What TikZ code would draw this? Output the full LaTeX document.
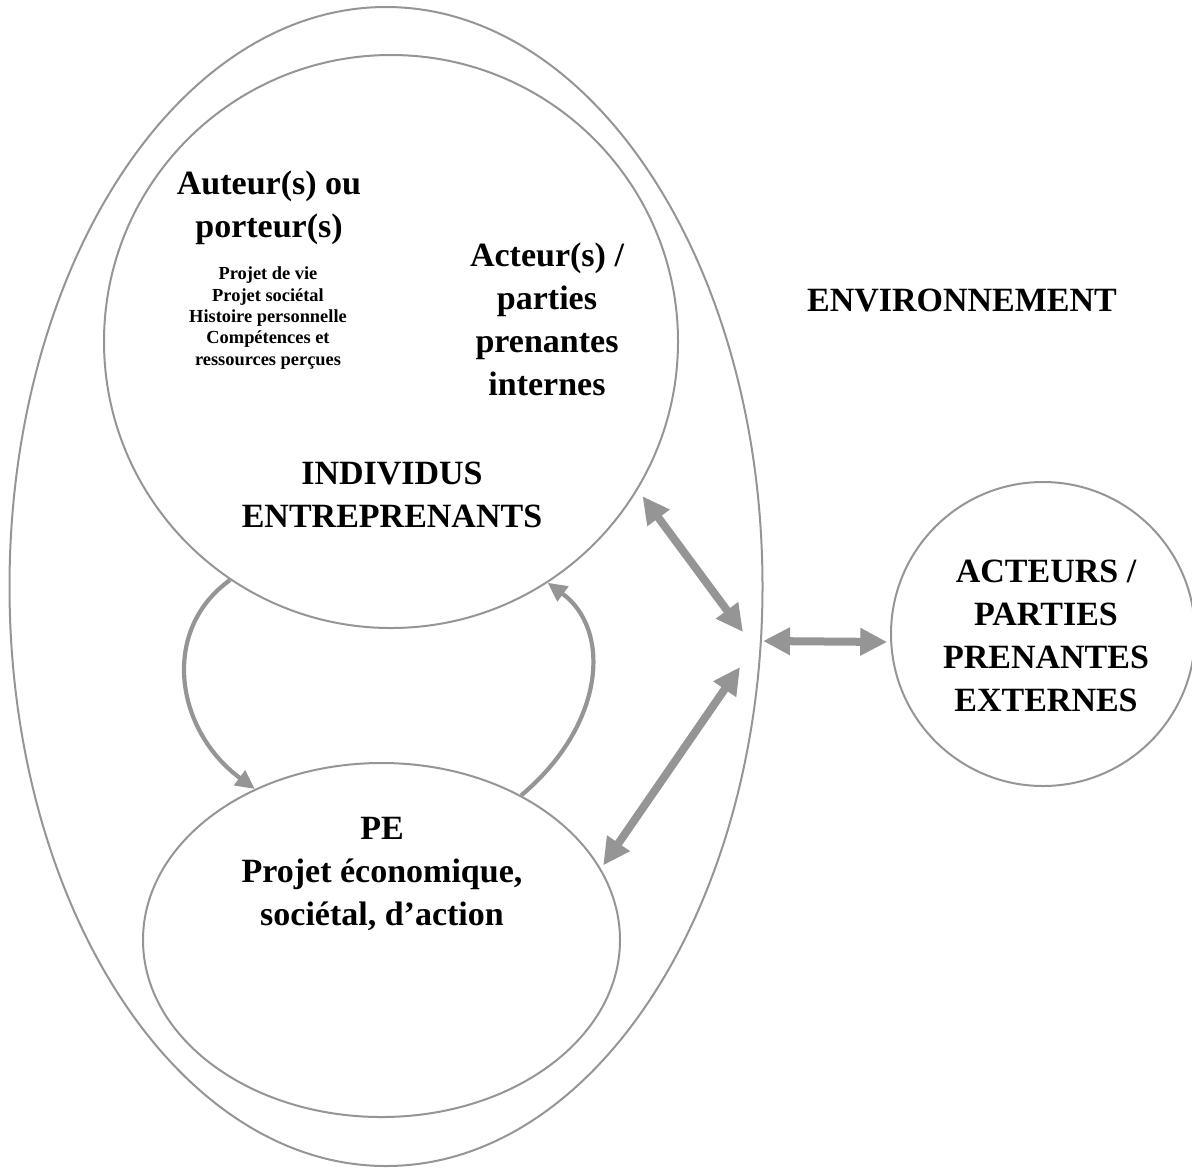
\documentclass[tikz,border=0pt]{standalone}
\usepackage{fontspec}
\setmainfont{Liberation Serif}
\usetikzlibrary{arrows.meta,shapes.geometric}
\definecolor{lg}{HTML}{959595}
\begin{document}
\begin{tikzpicture}[x=0.5pt,y=-0.5pt,
  shapeline/.style={draw=lg,line width=1pt,inner sep=0pt,ellipse},
  bigtext/.style={font=\fontsize{17}{21.5}\selectfont\bfseries,align=center,inner sep=0pt},
  smalltext/.style={font=\fontsize{9.2}{10.7}\selectfont\bfseries,align=center,inner sep=0pt},
  fatarrow/.style={draw=lg,line width=4pt,{Triangle[length=13.5pt,width=13pt]}-{Triangle[length=13.5pt,width=13pt]}},
  bentarrow/.style={draw=lg,line width=2.1pt,-{Triangle[length=9.5pt,width=9pt]}}
]
\useasboundingbox (0,0) rectangle (1192,1168);
% shapes
\node[shapeline,minimum width=376.5pt,minimum height=579.5pt] (env) at (386,586.5) {};
\node[shapeline,minimum width=287pt,minimum height=286.5pt] (ind) at (391,341.5) {};
\node[shapeline,minimum width=238.5pt,minimum height=177pt] (pe) at (381.5,940) {};
\node[shapeline,minimum width=152pt,minimum height=152pt] (ext) at (1043,634) {};
% texts
\node[bigtext] (auteur) at (269,208) {Auteur(s) ou\\porteur(s)};
\node[smalltext] (details) at (268,318) {Projet de vie\\Projet sociétal\\Histoire personnelle\\Compétences et\\ressources perçues};
\node[bigtext] (acteur) at (547,319) {Acteur(s) /\\parties\\prenantes\\internes};
\node[bigtext] (indiv) at (392,495) {INDIVIDUS\\ENTREPRENANTS};
\node[bigtext] (envtext) at (962,300) {ENVIRONNEMENT};
\node[bigtext] (exttext) at (1046,636) {ACTEURS /\\PARTIES\\PRENANTES\\EXTERNES};
\node[bigtext] (petext) at (382,874) {PE\\Projet économique,\\sociétal, d’action};
% free ends
\coordinate (hubA) at (743,632);
\coordinate (hubB) at (740,667);
\coordinate (hubC) at (763,641);
% arrows
\draw[bentarrow] (ind.236) .. controls (160,630) and (175,730) .. (pe.130);
\draw[bentarrow] (pe.46) .. controls (605,725) and (612,630) .. (ind.303.4);
\draw[fatarrow,shorten <=4pt] (ind.-31.1) -- (hubA);
\draw[fatarrow,shorten >=2pt] (hubB) -- (pe.18);
\draw[fatarrow,shorten >=1.5pt] (hubC) -- (ext.183);
\end{tikzpicture}
\end{document}
